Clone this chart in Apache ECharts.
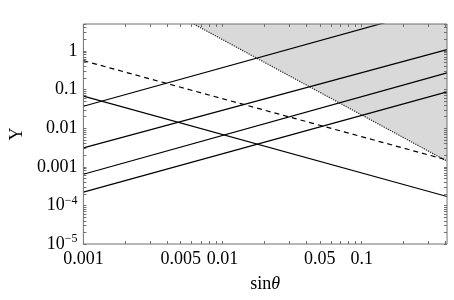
<!DOCTYPE html>
<html>
<head>
<meta charset="utf-8">
<script src="https://cdn.jsdelivr.net/npm/echarts@6/dist/echarts.min.js"></script>
<style>
html,body{margin:0;padding:0;background:#fff;}
#tuli{width:454px;height:300px;}
</style>
</head>
<body>
<div id="tuli"></div>
<script>
// axis ranges and labels
var xMin = 0.001, xMax = 0.41;
var yMin = 1e-5, yMax = 5;
var xLabels = [0.001, 0.005, 0.01, 0.05, 0.1];
var yLabels = [1e-5, 1e-4, 0.001, 0.01, 0.1, 1];

// lines: [sinθ, Y] at both ends
var riseA = [[0.001, 0.037], [0.41, 15.2]];
var riseB = [[0.001, 0.0031], [0.41, 1.08]];
var riseC = [[0.001, 0.00064], [0.41, 0.27]];
var riseD = [[0.001, 0.00022], [0.41, 0.087]];
var fall = [[0.001, 0.068], [0.41, 0.00017]];
var dashed = [[0.001, 0.56], [0.41, 0.0015]];
// edge of the grey region (dotted)
var bound = [[0.0062, 5], [0.41, 0.0014]];

// 1..9 x 10^k tick marks
function logTicks(lo, hi) {
    var out = [];
    for (var e = -6; e <= 1; e++) {
        for (var k = 1; k <= 9; k++) {
            var v = +(k * Math.pow(10, e)).toPrecision(3);
            if (v >= lo * 0.999 && v <= hi * 1.001) out.push(v);
        }
    }
    return out;
}
var xTicks = logTicks(xMin, xMax);
var yTicks = logTicks(yMin, yMax);

var serif = 'Liberation Serif';
var frameColor = '#707070';

function yFmt(v) {
    var e = Math.round(Math.log10(v));
    if (e >= -3) return '{b|' + (e >= 0 ? '1' : v.toFixed(-e)) + '}';
    return '{b|10}{s|\u2212' + (-e) + '}';
}

function solid(d) {
    return {
        type: 'line', data: d, symbol: 'none', clip: true, z: 3,
        lineStyle: {color: '#000', width: 1.2}
    };
}

// top / right axes: same ranges, ticks only
function frameAxis(pos, lo, hi, ticks) {
    return {
        type: 'log', logBase: 10, min: lo, max: hi, position: pos, z: 5,
        axisLine: {show: false},
        axisTick: {show: true, inside: true, length: 3, customValues: ticks, lineStyle: {color: frameColor}},
        axisLabel: {show: false},
        splitLine: {show: false}
    };
}

var tuli = echarts.init(document.getElementById('tuli'));
var option = {
    animation: false,
    // frame drawn by the grid, above the grey fill
    grid: {left: 78, right: 7, top: 24, bottom: 56, show: true, z: 10,
        backgroundColor: 'transparent', borderColor: frameColor, borderWidth: 1},
    xAxis: [{
        type: 'log', logBase: 10, min: xMin, max: xMax, position: 'bottom',
        name: '{n|sin}{i|\u03b8}', nameLocation: 'middle', nameGap: 31,
        nameTextStyle: {rich: {
            n: {fontFamily: serif, fontSize: 18, color: '#000'},
            i: {fontFamily: serif, fontSize: 18, fontStyle: 'italic', color: '#000'}
        }},
        axisLine: {show: false},
        axisTick: {inside: true, length: 3, customValues: xTicks, lineStyle: {color: frameColor}},
        axisLabel: {customValues: xLabels, fontFamily: serif, fontSize: 18, color: '#000', margin: 6,
            formatter: function (v) { return String(+v.toPrecision(3)); }},
        splitLine: {show: false}, minorTick: {show: false}
    }, frameAxis('top', xMin, xMax, xTicks)],
    yAxis: [{
        type: 'log', logBase: 10, min: yMin, max: yMax, position: 'left',
        name: 'Y', nameLocation: 'middle', nameGap: 57,
        nameTextStyle: {fontFamily: serif, fontSize: 18, color: '#000'},
        axisLine: {show: false},
        axisTick: {inside: true, length: 3, customValues: yTicks, lineStyle: {color: frameColor}},
        axisLabel: {customValues: yLabels, margin: 6, formatter: yFmt,
            rich: {
                b: {fontFamily: serif, fontSize: 18, color: '#000'},
                s: {fontFamily: serif, fontSize: 12, color: '#000', verticalAlign: 'top', padding: [0, 0, 10, 0]}
            }},
        splitLine: {show: false}
    }, frameAxis('right', yMin, yMax, yTicks)],
    series: [
        {
            // grey region, on the top/right axes (same ranges)
            type: 'line', data: bound, symbol: 'none', clip: true, z: 1,
            xAxisIndex: 1, yAxisIndex: 1,
            lineStyle: {color: '#222', width: 1.2, type: 'dotted'},
            areaStyle: {color: '#d9d9d9', opacity: 1, origin: 'end'}
        },
        solid(riseA), solid(riseB), solid(riseC), solid(riseD), solid(fall),
        {
            type: 'line', data: dashed, symbol: 'none', clip: true, z: 3,
            lineStyle: {color: '#000', width: 1.2, type: [5, 4]}
        }
    ]
};
tuli.setOption(option);
</script>
</body>
</html>
